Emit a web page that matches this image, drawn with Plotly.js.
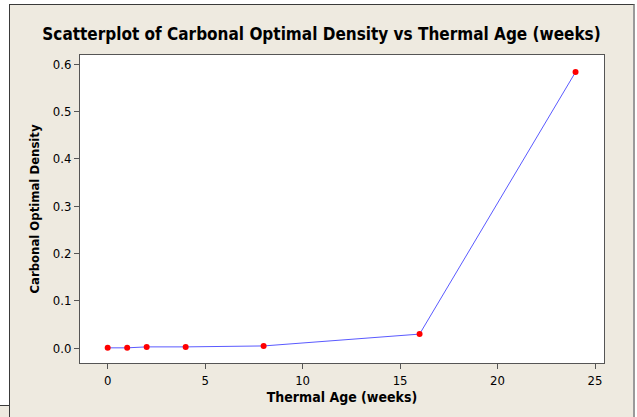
<!DOCTYPE html>
<html>
<head>
<meta charset="utf-8">
<script src="https://cdn.plot.ly/plotly-3.0.1.min.js"></script>
<style>
  body { margin: 0; background: #ffffff; width: 637px; height: 417px; overflow: hidden; position: relative; }
  #frame { position: absolute; left: 9px; top: 4px; width: 623px; height: 413px;
           border-left: 1px solid #3a3a3a; border-top: 1px solid #3a3a3a; border-right: 2px solid #9a9a9a;
           background: #eeeae0; }
  #plot { width: 623px; height: 413px; }
  #corner { position: absolute; left: 0; top: 405px; width: 9px; height: 12px;
            border-top: 1px solid #3a3a3a; background: #eeeae0; }
</style>
</head>
<body>
<div id="frame"><div id="plot"></div></div>
<div id="corner"></div>
<script>
// thermal age in weeks and measured density
var weeks = [0, 1, 2, 4, 8, 16, 24];
var density = [0.001, 0.001, 0.003, 0.003, 0.005, 0.030, 0.583];

var xTicks = [0, 5, 10, 15, 20, 25];
var yTicks = [0.0, 0.1, 0.2, 0.3, 0.4, 0.5, 0.6];
var yTickText = ['0.0', '0.1', '0.2', '0.3', '0.4', '0.5', '0.6'];

var trace = {
    x: weeks,
    y: density,
    type: 'scatter',
    mode: 'lines+markers',
    line: {color: '#5a5aff', width: 1},
    marker: {color: '#ff0000', size: 6}
};

var fam = 'DejaVu Sans Condensed, DejaVu Sans, sans-serif';
var tickFont = {family: fam, size: 13, color: '#000'};

var layout = {
    width: 623,
    height: 413,
    margin: {l: 70, r: 29, t: 50, b: 55},
    paper_bgcolor: '#eeeae0',
    plot_bgcolor: '#ffffff',
    showlegend: false,
    title: {text: '<b>Scatterplot of Carbonal Optimal Density vs Thermal Age (weeks)</b>',
            font: {family: fam, size: 17, color: '#000'},
            x: 0.5, xanchor: 'center', y: 0.93, yanchor: 'middle'},
    xaxis: {range: [-1.42, 25.46],
            tickvals: xTicks,
            ticks: 'outside', ticklen: 5, tickcolor: '#555',
            showgrid: false, zeroline: false,
            showline: true, linecolor: '#555', linewidth: 1, mirror: true,
            tickfont: tickFont,
            title: {text: '<b>Thermal Age (weeks)</b>', font: {family: fam, size: 14, color: '#000'}, standoff: 5}},
    yaxis: {range: [-0.031, 0.619],
            tickvals: yTicks, ticktext: yTickText,
            ticks: 'outside', ticklen: 5, tickcolor: '#555',
            showgrid: false, zeroline: false,
            showline: true, linecolor: '#555', linewidth: 1, mirror: true,
            tickfont: tickFont,
            title: {text: '<b>Carbonal Optimal Density</b>', font: {family: fam, size: 13, color: '#000'}, standoff: 10}}
};

Plotly.newPlot('plot', [trace], layout, {displayModeBar: false, staticPlot: true});
</script>
</body>
</html>
